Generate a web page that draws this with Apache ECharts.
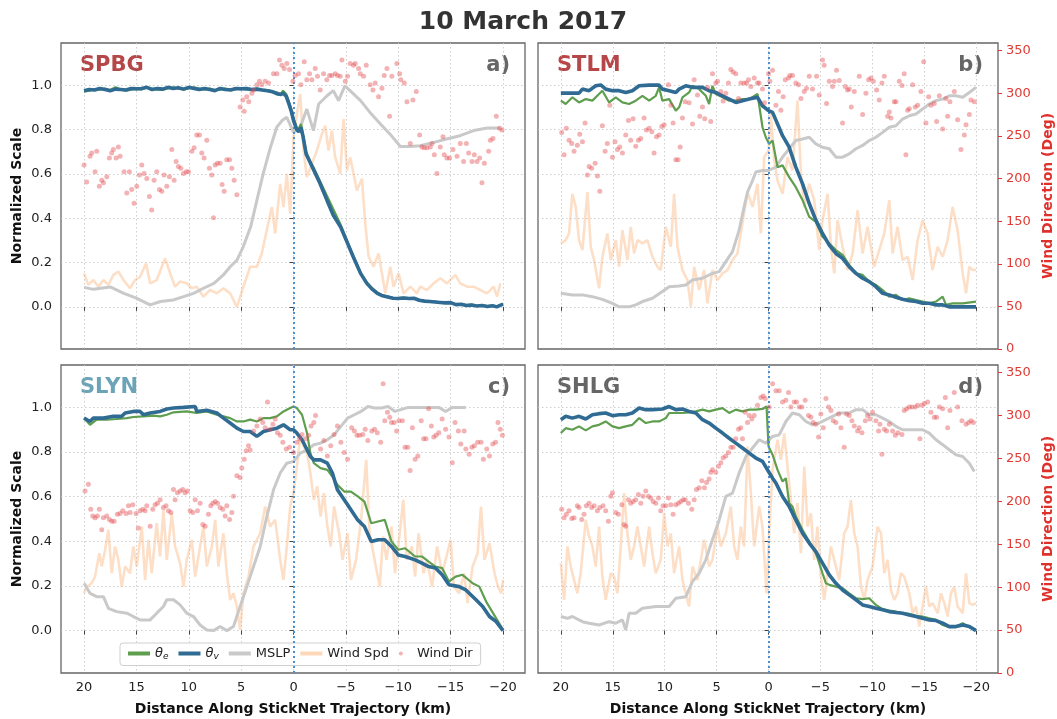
<!DOCTYPE html>
<html><head><meta charset="utf-8">
<script src="https://cdn.jsdelivr.net/npm/echarts@6/dist/echarts.min.js"></script>
<style>html,body{margin:0;padding:0;background:#fff}#c{width:1057px;height:719px}</style>
</head><body><div id="c"></div>
<script>
const titleText='10 March 2017';
const stations=['SPBG','STLM','SLYN','SHLG'];
const panelTags=['a)','b)','c)','d)'];
const xTicks=[20,15,10,5,0,-5,-10,-15,-20];
const yTicks=[0,0.2,0.4,0.6,0.8,1.0];
const seriesNames=['θe','θv','MSLP','Wind Spd','Wind Dir'];

// ---------- SPBG (a) ----------
const spbgThetaV=[[20,0.975],[19.5,0.98],[19,0.978],[18.5,0.985],[18,0.98],[17.5,0.975],[17,0.982],[16.5,0.98],[16,0.978],[15.5,0.985],[15,0.983],[14.5,0.985],[14,0.99],[13.5,0.98],[13,0.985],[12.5,0.982],[12,0.99],[11.5,0.985],[11,0.988],[10.5,0.982],[10,0.99],[9.5,0.985],[9,0.98],[8.5,0.985],[8,0.98],[7.5,0.975],[7,0.985],[6.5,0.98],[6,0.978],[5.5,0.985],[5,0.983],[4.5,0.985],[4,0.98],[3.5,0.982],[3,0.978],[2.5,0.975],[2,0.97],[1.5,0.96],[1.2,0.958],[1,0.965],[0.7,0.95],[0.4,0.91],[0.2,0.88],[0,0.84],[-0.3,0.8],[-0.5,0.79],[-0.7,0.81],[-0.9,0.77],[-1.2,0.69],[-1.5,0.66],[-1.9,0.62],[-2.5,0.56],[-3.2,0.48],[-3.8,0.413],[-4.5,0.36],[-5.1,0.293],[-5.7,0.226],[-6.4,0.151],[-7,0.106],[-7.5,0.08],[-8,0.061],[-8.5,0.05],[-9,0.045],[-9.5,0.039],[-10,0.038],[-10.5,0.04],[-11,0.038],[-11.5,0.039],[-12,0.03],[-12.5,0.026],[-13,0.024],[-13.5,0.022],[-14,0.02],[-14.5,0.018],[-15,0.019],[-15.5,0.01],[-16,0.012],[-16.5,0.006],[-17,0.008],[-17.5,0.004],[-18,0.006],[-18.5,0.002],[-19,0.005],[-19.4,0.0],[-20,0.012]];
const spbgThetaE=[[20,0.97],[19.5,0.975],[19,0.982],[18.5,0.98],[18,0.985],[17.5,0.978],[17,0.99],[16.5,0.98],[16,0.975],[15.5,0.98],[15,0.985],[14.5,0.98],[14,0.99],[13.5,0.985],[13,0.98],[12.5,0.978],[12,0.985],[11.5,0.99],[11,0.985],[10.5,0.98],[10,0.985],[9.5,0.99],[9,0.985],[8.5,0.98],[8,0.985],[7.5,0.978],[7,0.98],[6.5,0.985],[6,0.98],[5.5,0.982],[5,0.985],[4.5,0.98],[4,0.978],[3.5,0.985],[3,0.98],[2.5,0.978],[2,0.972],[1.5,0.965],[1.2,0.96],[1,0.975],[0.7,0.96],[0.4,0.92],[0.2,0.89],[0,0.85],[-0.3,0.81],[-0.5,0.8],[-0.7,0.825],[-0.9,0.78],[-1.2,0.7],[-1.5,0.665],[-1.9,0.63],[-2.5,0.57],[-3.2,0.5],[-3.8,0.44],[-4.5,0.37],[-5.1,0.3],[-5.7,0.23],[-6.4,0.155],[-7,0.11],[-7.5,0.085],[-8,0.065],[-8.5,0.052],[-9,0.046],[-9.5,0.04],[-10,0.04],[-10.5,0.042],[-11,0.04],[-11.5,0.04],[-12,0.032],[-12.5,0.027],[-13,0.025],[-13.5,0.024],[-14,0.02],[-14.5,0.02],[-15,0.02],[-15.5,0.012],[-16,0.013],[-16.5,0.008],[-17,0.01],[-17.5,0.005],[-18,0.007],[-18.5,0.004],[-19,0.006],[-19.4,0.002],[-20,0.013]];
const spbgMslp=[[20,0.088],[19.1,0.079],[17.5,0.09],[16.2,0.061],[15,0.039],[13.7,0.009],[12.7,0.024],[11.5,0.031],[10.5,0.046],[9.55,0.061],[8.6,0.084],[7.6,0.106],[6.7,0.144],[6.05,0.181],[5.4,0.211],[4.8,0.271],[4.1,0.36],[3.5,0.48],[2.9,0.6],[2.2,0.72],[1.6,0.81],[1.1,0.84],[0.64,0.855],[0.3,0.82],[0,0.787],[-0.64,0.81],[-1.27,0.892],[-1.9,0.795],[-2.4,0.915],[-3.2,0.952],[-3.8,0.975],[-4.3,0.93],[-4.9,0.997],[-5.4,0.975],[-6.4,0.93],[-7.3,0.877],[-8.3,0.825],[-9.2,0.78],[-10.2,0.723],[-11.1,0.723],[-12.1,0.727],[-13.4,0.742],[-14.6,0.757],[-15.9,0.772],[-17.2,0.795],[-18.5,0.807],[-19.7,0.807]];
const spbgWspd=[[20,0.151],[19.59,0.099],[19.11,0.121],[18.63,0.091],[18.15,0.121],[17.68,0.099],[17.2,0.144],[16.72,0.159],[16.24,0.121],[15.61,0.084],[15.13,0.121],[14.65,0.136],[14.08,0.196],[13.69,0.106],[13.06,0.121],[12.26,0.219],[11.78,0.151],[11.31,0.091],[10.83,0.114],[10.19,0.106],[9.71,0.084],[9.24,0.091],[8.6,0.046],[7.96,0.076],[7.32,0.061],[6.69,0.084],[6.05,0.061],[5.41,0.0],[4.78,0.091],[4.14,0.181],[3.5,0.181],[3.03,0.241],[2.55,0.346],[2.07,0.45],[1.75,0.331],[1.27,0.555],[0.96,0.45],[0.64,0.6],[0.32,0.42],[0,0.765],[-0.32,0.87],[-0.64,0.96],[-0.96,0.705],[-1.27,0.585],[-1.75,0.645],[-2.23,0.705],[-2.71,0.78],[-3.03,0.817],[-3.34,0.705],[-3.66,0.795],[-3.98,0.675],[-4.46,0.6],[-4.78,0.847],[-5.1,0.615],[-5.41,0.675],[-5.73,0.6],[-6.05,0.525],[-6.53,0.578],[-6.85,0.376],[-7.17,0.226],[-7.64,0.181],[-8.12,0.241],[-8.44,0.151],[-8.76,0.061],[-9.24,0.181],[-9.55,0.091],[-10.03,0.151],[-10.51,0.061],[-11.15,0.091],[-11.78,0.061],[-12.1,0.091],[-12.74,0.076],[-13.38,0.106],[-14.01,0.129],[-14.65,0.106],[-15.45,0.144],[-15.92,0.106],[-16.56,0.091],[-17.2,0.091],[-17.83,0.076],[-18.47,0.061],[-19.11,0.091],[-19.43,0.046],[-19.75,0.106]];
const spbgWdir=[[20.0,216],[19.75,196],[19.43,226],[19.27,230],[18.95,208],[18.79,232],[18.54,191],[18.31,198],[18.15,195],[17.83,202],[17.58,224],[17.36,230],[17.2,234],[16.94,224],[16.72,237],[16.56,226],[16.18,208],[15.92,183],[15.67,208],[15.45,187],[15.22,171],[14.97,191],[14.71,204],[14.49,216],[14.27,206],[14.01,200],[13.76,179],[13.54,163],[13.31,198],[13.06,208],[12.8,187],[12.58,185],[12.36,204],[12.1,191],[11.85,202],[11.62,234],[11.4,198],[11.21,220],[10.99,214],[10.76,212],[10.51,206],[10.25,208],[10.03,208],[9.71,232],[9.49,236],[9.24,251],[8.98,251],[8.76,230],[8.54,224],[8.28,245],[8.03,212],[7.8,204],[7.64,154],[7.48,216],[7.26,218],[7.01,218],[6.82,193],[6.62,185],[6.37,222],[6.11,222],[5.89,212],[5.67,198],[5.41,181],[5.1,284],[4.84,292],[4.71,279],[4.46,296],[4.27,290],[3.98,300],[3.82,304],[3.5,310],[3.25,314],[3.03,310],[2.71,314],[2.39,312],[1.91,323],[1.59,323],[1.34,339],[1.11,333],[0.89,329],[0.64,335],[0.38,328],[0.06,314],[-0.16,321],[-0.48,323],[-0.7,310],[-1.02,337],[-1.27,316],[-1.53,323],[-1.75,316],[-2.07,329],[-2.29,320],[-2.55,304],[-2.87,323],[-3.18,316],[-3.44,321],[-3.66,321],[-3.98,323],[-4.2,321],[-4.46,320],[-4.62,339],[-4.94,314],[-5.16,320],[-5.41,335],[-5.73,333],[-5.89,335],[-6.21,329],[-6.37,323],[-6.69,320],[-6.94,333],[-7.32,310],[-7.58,304],[-7.8,312],[-8.12,296],[-8.44,306],[-8.66,321],[-8.92,329],[-9.17,273],[-9.39,320],[-9.87,335],[-10.13,323],[-10.25,316],[-10.57,312],[-10.83,290],[-11.15,241],[-11.4,292],[-11.72,302],[-12.04,251],[-12.26,237],[-12.48,236],[-12.74,236],[-13.06,237],[-13.22,241],[-13.44,228],[-13.69,206],[-14.01,237],[-14.27,249],[-14.39,228],[-14.65,224],[-14.9,224],[-15.22,234],[-15.61,226],[-15.92,241],[-16.24,220],[-16.5,241],[-16.72,230],[-17.04,220],[-17.26,228],[-17.52,220],[-17.77,224],[-17.99,195],[-18.22,218],[-18.63,232],[-18.79,245],[-19.04,247],[-19.36,273],[-19.68,259],[-19.9,257]];

// ---------- STLM (b) ----------
const stlmThetaV=[[20,0.964],[18.25,0.964],[17.92,0.982],[17.28,0.975],[16.64,0.997],[16.16,1.001],[15.68,0.982],[15.03,0.975],[14.39,0.975],[13.75,0.967],[13.11,0.975],[12.46,0.997],[11.5,1.0],[10.54,1.0],[10.22,0.982],[9.57,0.975],[8.93,0.967],[8.61,0.982],[7.97,0.997],[7.32,0.99],[6.36,0.99],[5.72,0.975],[5.08,0.967],[4.43,0.952],[3.79,0.937],[3.15,0.922],[2.51,0.93],[1.86,0.937],[1.06,0.945],[0.58,0.907],[0,0.885],[-0.39,0.877],[-0.87,0.825],[-1.35,0.772],[-1.99,0.72],[-2.63,0.63],[-3.28,0.555],[-3.92,0.466],[-4.56,0.391],[-5.2,0.331],[-5.85,0.278],[-6.49,0.241],[-7.13,0.219],[-7.77,0.181],[-8.42,0.151],[-9.06,0.129],[-9.7,0.114],[-10.34,0.091],[-10.99,0.061],[-11.63,0.054],[-12.27,0.043],[-12.91,0.034],[-13.56,0.028],[-14.2,0.024],[-14.84,0.016],[-15.48,0.016],[-16.13,0.009],[-16.77,0.009],[-17.41,0.0],[-18.7,0.0],[-19.98,0.0]];
const stlmThetaE=[[20,0.93],[19.53,0.915],[18.89,0.945],[18.25,0.922],[17.6,0.937],[16.96,0.93],[16.32,0.96],[16.0,0.975],[15.35,0.922],[14.71,0.945],[14.07,0.922],[13.43,0.915],[12.79,0.93],[12.14,0.952],[11.5,0.93],[10.86,0.952],[10.54,0.99],[10.22,0.93],[9.57,0.937],[8.93,0.885],[8.61,0.9],[8.29,0.945],[7.65,0.967],[7.32,0.997],[6.68,0.982],[6.04,0.952],[5.72,0.915],[5.4,0.997],[5.08,0.96],[4.43,0.945],[3.79,0.93],[3.15,0.93],[2.51,0.937],[1.86,0.937],[1.06,0.96],[0.58,0.81],[0.26,0.765],[-0.06,0.735],[-0.39,0.75],[-0.87,0.63],[-1.35,0.638],[-1.99,0.585],[-2.63,0.54],[-3.28,0.481],[-3.92,0.406],[-4.56,0.383],[-5.2,0.316],[-5.85,0.286],[-6.49,0.256],[-7.13,0.234],[-7.77,0.189],[-8.42,0.151],[-9.06,0.144],[-9.7,0.114],[-10.34,0.099],[-10.99,0.076],[-11.63,0.046],[-12.27,0.054],[-12.91,0.031],[-13.56,0.039],[-14.2,0.031],[-14.84,0.024],[-15.48,0.016],[-16.13,0.024],[-16.77,0.046],[-17.09,0.009],[-17.73,0.016],[-18.7,0.016],[-19.98,0.024]];
const stlmMslp=[[20,0.061],[18.89,0.054],[17.92,0.054],[16.96,0.046],[16.0,0.034],[15.03,0.016],[14.39,0.0],[13.43,0.0],[12.79,0.009],[12.14,0.024],[11.18,0.039],[10.22,0.069],[9.57,0.091],[8.61,0.094],[7.97,0.099],[7.32,0.121],[6.36,0.129],[5.4,0.151],[4.75,0.159],[4.11,0.204],[3.47,0.249],[2.83,0.346],[2.35,0.451],[2.02,0.518],[1.54,0.57],[1.22,0.608],[0.58,0.615],[0,0.615],[-0.71,0.63],[-1.35,0.675],[-1.99,0.713],[-2.63,0.75],[-3.28,0.757],[-3.92,0.765],[-4.56,0.735],[-5.2,0.72],[-5.85,0.713],[-6.49,0.675],[-7.13,0.675],[-7.77,0.69],[-8.42,0.713],[-9.06,0.728],[-9.7,0.75],[-10.34,0.765],[-10.99,0.787],[-11.63,0.81],[-12.27,0.817],[-12.91,0.847],[-13.56,0.862],[-14.2,0.87],[-14.84,0.892],[-15.48,0.915],[-16.13,0.93],[-16.77,0.937],[-17.41,0.952],[-18.05,0.952],[-18.7,0.945],[-19.34,0.967],[-19.98,0.99]];
const stlmWspd=[[20,0.286],[19.53,0.301],[19.21,0.331],[18.89,0.51],[18.57,0.451],[18.25,0.301],[17.92,0.256],[17.44,0.518],[17.12,0.271],[16.8,0.211],[16.32,0.084],[16.0,0.226],[15.52,0.331],[15.19,0.211],[14.71,0.301],[14.39,0.181],[14.07,0.346],[13.59,0.211],[13.27,0.361],[12.95,0.241],[12.62,0.301],[12.14,0.286],[11.66,0.301],[11.18,0.226],[10.7,0.181],[10.38,0.166],[9.89,0.361],[9.41,0.271],[9.09,0.51],[8.77,0.271],[8.29,0.166],[7.81,0.121],[7.48,0.0],[7.16,0.181],[6.68,0.076],[6.2,0.166],[5.88,0.016],[5.4,0.166],[4.91,0.121],[4.43,0.151],[3.95,0.166],[3.47,0.211],[2.99,0.241],[2.51,0.376],[2.02,0.518],[1.54,0.451],[1.06,0.555],[0.74,0.331],[0.42,0.675],[0,0.705],[-0.22,0.87],[-0.55,0.66],[-0.87,0.57],[-1.35,0.51],[-1.83,0.675],[-2.31,0.615],[-2.79,0.93],[-3.12,0.6],[-3.44,0.451],[-3.92,0.555],[-4.4,0.481],[-4.88,0.256],[-5.2,0.391],[-5.69,0.51],[-6.01,0.271],[-6.33,0.151],[-6.65,0.391],[-7.13,0.271],[-7.61,0.166],[-8.1,0.241],[-8.58,0.436],[-9.06,0.241],[-9.54,0.361],[-9.86,0.271],[-10.18,0.181],[-10.66,0.256],[-11.15,0.331],[-11.63,0.481],[-11.95,0.241],[-12.43,0.361],[-12.91,0.211],[-13.4,0.226],[-13.88,0.121],[-14.36,0.301],[-14.84,0.391],[-15.32,0.331],[-15.8,0.166],[-16.29,0.271],[-16.77,0.226],[-17.25,0.301],[-17.73,0.451],[-18.21,0.346],[-18.7,0.151],[-19.02,0.061],[-19.34,0.181],[-19.66,0.166],[-19.98,0.166]];
const stlmWdir=[[19.92,254],[19.69,228],[19.47,259],[19.21,245],[18.95,241],[18.73,232],[18.41,239],[18.18,252],[17.92,243],[17.67,265],[17.44,204],[17.28,214],[17.03,212],[16.7,218],[16.48,203],[16.25,185],[16.0,262],[15.74,232],[15.52,241],[15.29,286],[15.03,225],[14.78,243],[14.55,234],[14.33,237],[14.07,230],[13.75,251],[13.49,268],[13.27,245],[13.04,270],[12.79,238],[12.53,245],[12.3,247],[11.98,271],[11.76,257],[11.5,259],[11.24,255],[11.02,230],[10.79,249],[10.54,251],[10.28,261],[10.05,263],[9.64,310],[9.41,286],[9.19,265],[8.93,222],[8.71,222],[8.51,237],[8.29,271],[8.03,290],[7.65,289],[7.32,264],[7.16,316],[6.84,298],[6.62,273],[6.36,284],[6.14,270],[5.88,307],[5.56,267],[5.4,323],[5.08,312],[4.91,314],[4.59,302],[4.37,291],[4.11,300],[3.86,312],[3.63,328],[3.41,325],[3.15,323],[2.89,294],[2.67,312],[2.35,312],[2.12,312],[1.93,316],[1.7,308],[1.38,318],[1.06,312],[0.9,312],[0.58,305],[0.39,289],[0,323],[-0.13,314],[-0.39,327],[-0.71,286],[-0.96,302],[-1.19,280],[-1.41,296],[-1.61,316],[-1.93,318],[-2.06,321],[-2.31,321],[-2.63,312],[-2.89,310],[-3.12,294],[-3.44,302],[-3.66,306],[-3.92,320],[-4.24,305],[-4.63,320],[-4.88,298],[-5.2,339],[-5.36,333],[-5.59,288],[-5.85,314],[-6.17,308],[-6.33,314],[-6.55,327],[-6.81,315],[-7.13,265],[-7.39,308],[-7.61,304],[-7.77,305],[-7.97,284],[-8.26,302],[-8.74,320],[-9.06,275],[-9.38,300],[-9.64,316],[-9.86,318],[-10.09,314],[-10.41,304],[-10.66,292],[-10.92,312],[-11.15,320],[-11.47,273],[-11.63,278],[-11.79,271],[-12.11,290],[-12.27,290],[-12.59,314],[-12.85,309],[-13.07,323],[-13.23,228],[-13.4,280],[-13.56,282],[-13.88,310],[-14.13,284],[-14.36,286],[-14.68,302],[-14.94,337],[-15.16,265],[-15.42,296],[-15.64,286],[-15.96,288],[-16.19,267],[-16.45,297],[-16.77,258],[-17.09,294],[-17.25,273],[-17.47,290],[-17.89,302],[-18.21,269],[-18.53,234],[-18.86,251],[-19.02,263],[-19.34,275],[-19.5,292],[-19.82,290]];

// ---------- SLYN (c) ----------
const slynThetaV=[[20,0.952],[19.43,0.937],[19.11,0.952],[18.15,0.952],[17.2,0.96],[16.4,0.96],[16.08,0.975],[15.29,0.982],[14.65,0.982],[14.33,0.967],[13.69,0.975],[12.74,0.982],[12.1,0.993],[11.46,0.997],[10.51,1.0],[9.39,1.004],[9.24,0.982],[8.28,0.987],[7.32,0.975],[6.69,0.952],[6.05,0.93],[5.41,0.907],[4.78,0.892],[4.14,0.892],[3.5,0.87],[2.87,0.892],[2.23,0.9],[1.59,0.907],[0.96,0.922],[0.32,0.9],[0,0.9],[-0.32,0.885],[-0.81,0.855],[-1.29,0.81],[-1.61,0.78],[-1.94,0.765],[-2.58,0.765],[-3.23,0.75],[-3.71,0.706],[-4.19,0.631],[-4.84,0.586],[-5.48,0.541],[-6.13,0.496],[-6.77,0.466],[-7.42,0.399],[-8.06,0.407],[-8.71,0.407],[-9.35,0.377],[-10.0,0.339],[-10.65,0.332],[-11.61,0.317],[-12.26,0.302],[-12.9,0.287],[-13.55,0.28],[-14.19,0.25],[-14.84,0.205],[-15.81,0.197],[-16.45,0.182],[-17.42,0.138],[-18.06,0.108],[-18.71,0.063],[-19.35,0.04],[-20,0.0]];
const slynThetaE=[[20,0.952],[19.43,0.922],[18.79,0.945],[17.83,0.945],[16.88,0.948],[15.92,0.952],[15.29,0.957],[14.33,0.96],[13.38,0.963],[12.74,0.96],[12.1,0.967],[11.46,0.978],[10.19,0.982],[9.24,0.975],[8.28,0.982],[7.32,0.967],[6.69,0.96],[6.05,0.952],[5.41,0.937],[4.78,0.937],[4.14,0.945],[3.5,0.937],[2.87,0.952],[2.23,0.952],[1.59,0.96],[0.96,0.982],[0.32,0.997],[0,1.004],[-0.32,0.997],[-0.81,0.967],[-1.29,0.885],[-1.61,0.795],[-1.94,0.75],[-2.58,0.728],[-3.23,0.72],[-3.71,0.69],[-4.19,0.653],[-4.84,0.623],[-5.48,0.623],[-6.13,0.601],[-6.77,0.578],[-7.42,0.481],[-8.06,0.489],[-8.71,0.496],[-9.35,0.399],[-10.0,0.362],[-10.65,0.369],[-11.61,0.332],[-12.26,0.332],[-12.9,0.309],[-13.55,0.287],[-14.19,0.28],[-14.84,0.22],[-15.48,0.242],[-16.13,0.25],[-17.1,0.212],[-17.74,0.197],[-18.39,0.13],[-19.35,0.055],[-20,0.003]];
const slynMslp=[[20,0.212],[19.43,0.167],[18.79,0.152],[18.15,0.152],[17.68,0.1],[16.88,0.085],[15.92,0.078],[15.29,0.063],[14.65,0.048],[13.69,0.048],[13.06,0.078],[12.42,0.108],[12.1,0.138],[11.46,0.138],[10.83,0.115],[10.19,0.078],[9.55,0.063],[8.92,0.025],[8.28,0.003],[7.64,0.0],[7.01,0.018],[6.37,0.0],[5.73,0.018],[5.1,0.108],[4.46,0.197],[3.82,0.287],[3.18,0.377],[2.55,0.511],[1.91,0.631],[1.27,0.706],[0.64,0.75],[0,0.758],[-0.65,0.795],[-1.29,0.81],[-1.94,0.833],[-2.58,0.84],[-3.23,0.855],[-3.87,0.877],[-4.52,0.915],[-5.16,0.952],[-5.81,0.967],[-6.45,0.982],[-7.1,1.004],[-7.74,0.997],[-8.39,0.997],[-9.03,1.004],[-9.68,0.982],[-10.97,1.0],[-12.26,1.0],[-13.87,1.0],[-14.52,0.982],[-15.16,1.0],[-16.45,1.0]];
const slynWspd=[[20,0.167],[19.75,0.197],[19.27,0.212],[18.95,0.242],[18.54,0.347],[18.31,0.287],[17.99,0.362],[17.68,0.451],[17.36,0.257],[17.04,0.377],[16.72,0.317],[16.4,0.197],[16.08,0.287],[15.61,0.257],[15.29,0.377],[14.97,0.287],[14.49,0.466],[14.17,0.227],[13.85,0.407],[13.54,0.257],[13.06,0.481],[12.74,0.332],[12.42,0.541],[12.1,0.317],[11.62,0.526],[11.31,0.377],[10.83,0.302],[10.51,0.197],[10.19,0.317],[9.71,0.407],[9.39,0.242],[8.92,0.377],[8.6,0.466],[8.28,0.287],[7.8,0.377],[7.48,0.496],[7.17,0.287],[6.69,0.436],[6.37,0.257],[6.05,0.138],[5.73,0.167],[5.41,0.108],[5.1,0.003],[4.78,0.167],[4.3,0.242],[3.82,0.377],[3.18,0.436],[2.71,0.556],[2.23,0.466],[1.75,0.496],[1.27,0.317],[0.96,0.227],[0.64,0.377],[0.32,0.556],[0,0.616],[-0.32,0.735],[-0.65,0.87],[-0.97,0.825],[-1.29,0.795],[-1.61,0.706],[-1.94,0.586],[-2.26,0.646],[-2.58,0.511],[-2.9,0.616],[-3.23,0.466],[-3.55,0.377],[-3.87,0.556],[-4.35,0.436],[-4.68,0.317],[-5.16,0.436],[-5.48,0.227],[-5.97,0.317],[-6.45,0.496],[-6.94,0.765],[-7.26,0.436],[-7.74,0.317],[-8.23,0.197],[-8.55,0.422],[-8.87,0.317],[-9.35,0.466],[-9.68,0.257],[-10.0,0.377],[-10.48,0.586],[-10.81,0.317],[-11.29,0.377],[-11.61,0.242],[-11.94,0.436],[-12.42,0.257],[-12.74,0.317],[-13.23,0.197],[-13.71,0.377],[-14.19,0.257],[-14.52,0.317],[-15.0,0.407],[-15.32,0.197],[-15.81,0.167],[-16.29,0.257],[-16.61,0.123],[-17.1,0.287],[-17.58,0.347],[-17.9,0.556],[-18.23,0.317],[-18.71,0.392],[-19.19,0.257],[-19.52,0.197],[-19.84,0.167],[-20,0.227]];
const slynWdir=[[19.9,212],[19.59,220],[19.36,191],[19.17,183],[18.95,181],[18.73,183],[18.54,191],[18.31,167],[18.15,181],[17.83,183],[17.58,179],[17.36,177],[17.13,177],[16.82,185],[16.56,186],[16.31,189],[15.99,186],[15.76,195],[15.61,187],[15.35,196],[15.03,186],[14.81,169],[14.65,189],[14.39,191],[14.17,189],[14.01,195],[13.69,171],[13.44,191],[13.22,196],[12.99,198],[12.74,202],[12.42,193],[12.17,195],[11.94,189],[11.72,187],[11.46,214],[11.31,202],[11.08,210],[10.83,212],[10.57,214],[10.35,210],[10.13,212],[9.87,189],[9.62,187],[9.39,202],[9.17,189],[8.92,198],[8.66,173],[8.44,171],[8.12,185],[7.9,195],[7.71,198],[7.48,200],[7.26,198],[7.01,193],[6.75,191],[6.53,183],[6.37,195],[6.11,179],[5.89,187],[5.73,206],[5.41,230],[5.1,228],[4.94,239],[4.71,249],[4.52,259],[4.3,265],[4.14,260],[3.82,282],[3.5,288],[3.18,296],[2.93,292],[2.71,286],[2.48,316],[2.23,284],[1.97,290],[1.75,296],[1.53,280],[1.27,277],[1.02,269],[0.7,261],[0.38,263],[0,257],[-0.32,269],[-0.58,273],[-0.81,278],[-1.13,273],[-1.45,277],[-1.68,288],[-1.94,292],[-2.1,300],[-2.58,261],[-2.9,271],[-3.23,253],[-3.55,265],[-3.87,278],[-4.19,288],[-4.52,269],[-4.84,257],[-5.16,249],[-5.55,286],[-5.81,282],[-6.06,277],[-6.29,277],[-6.61,278],[-6.84,284],[-7.1,271],[-7.48,282],[-7.74,284],[-8.0,280],[-8.32,269],[-8.55,337],[-8.71,294],[-8.97,304],[-9.19,298],[-9.35,292],[-9.61,292],[-9.84,282],[-10.06,294],[-10.39,294],[-10.65,263],[-10.9,263],[-11.13,236],[-11.35,286],[-11.61,249],[-11.87,253],[-12.19,294],[-12.42,273],[-12.65,273],[-12.9,308],[-13.16,288],[-13.39,275],[-13.61,277],[-13.87,280],[-14.19,296],[-14.52,284],[-14.84,275],[-15.16,245],[-15.42,292],[-15.74,282],[-15.97,267],[-16.29,282],[-16.45,261],[-16.77,255],[-17.03,263],[-17.26,265],[-17.58,269],[-17.9,269],[-18.13,249],[-18.45,261],[-18.71,253],[-19.03,267],[-19.29,269],[-19.52,292],[-19.74,284],[-19.94,277]];

// ---------- SHLG (d) ----------
const shlgThetaV=[[20,0.945],[19.53,0.96],[18.89,0.952],[18.25,0.96],[17.6,0.948],[16.96,0.967],[16.32,0.972],[15.68,0.975],[15.03,0.963],[14.39,0.967],[13.75,0.967],[13.11,0.975],[12.46,0.997],[11.82,0.99],[11.18,0.99],[10.22,0.993],[9.57,1.004],[8.93,0.99],[8.29,0.993],[7.65,0.982],[7.0,0.975],[6.36,0.945],[5.72,0.93],[5.08,0.907],[4.43,0.885],[3.79,0.862],[3.15,0.84],[2.51,0.818],[1.86,0.795],[1.22,0.773],[0.58,0.758],[0,0.713],[-0.39,0.683],[-0.71,0.661],[-1.35,0.601],[-1.99,0.556],[-2.63,0.496],[-3.28,0.436],[-3.92,0.392],[-4.56,0.354],[-5.2,0.302],[-5.85,0.25],[-6.49,0.212],[-7.13,0.182],[-7.77,0.16],[-8.42,0.138],[-9.06,0.115],[-9.7,0.108],[-10.34,0.1],[-10.99,0.093],[-11.63,0.085],[-12.27,0.081],[-12.91,0.078],[-13.56,0.07],[-14.2,0.063],[-14.84,0.055],[-15.48,0.048],[-16.13,0.045],[-16.77,0.033],[-17.41,0.018],[-18.05,0.018],[-18.7,0.025],[-19.34,0.018],[-19.98,0.0]];
const shlgThetaE=[[20,0.885],[19.53,0.907],[18.89,0.9],[18.25,0.915],[17.6,0.897],[16.96,0.915],[16.32,0.922],[15.68,0.937],[15.03,0.915],[14.39,0.907],[13.75,0.915],[13.11,0.922],[12.46,0.952],[11.82,0.93],[11.18,0.937],[10.54,0.937],[9.89,0.952],[9.57,0.975],[8.93,0.975],[8.29,0.975],[7.65,0.978],[7.0,0.982],[6.36,0.99],[5.72,0.982],[5.08,0.99],[4.43,0.997],[3.79,0.975],[3.15,0.99],[2.51,0.982],[1.86,0.99],[1.22,0.99],[0.58,0.993],[0.19,1.004],[0,0.825],[-0.39,0.788],[-0.87,0.72],[-1.35,0.668],[-1.67,0.683],[-1.99,0.571],[-2.31,0.556],[-2.63,0.511],[-3.28,0.451],[-3.92,0.399],[-4.56,0.347],[-5.2,0.257],[-5.53,0.212],[-5.85,0.205],[-6.49,0.197],[-7.13,0.19],[-7.77,0.167],[-8.42,0.145],[-9.06,0.141],[-9.7,0.145],[-10.34,0.115],[-10.99,0.096],[-11.63,0.09],[-12.27,0.085],[-12.91,0.078],[-13.56,0.075],[-14.2,0.066],[-14.84,0.063],[-15.48,0.055],[-16.13,0.048],[-16.77,0.025],[-17.41,0.015],[-18.05,0.018],[-18.7,0.033],[-19.34,0.015],[-19.98,0.003]];
const shlgMslp=[[20,0.063],[19.37,0.055],[18.89,0.063],[17.92,0.04],[17.28,0.033],[16.32,0.025],[15.35,0.04],[14.71,0.033],[14.07,0.048],[13.75,0.003],[13.43,0.078],[12.79,0.078],[12.14,0.1],[10.86,0.108],[9.57,0.108],[8.93,0.145],[7.97,0.152],[7.32,0.22],[6.68,0.257],[6.04,0.317],[5.4,0.407],[4.75,0.496],[4.11,0.601],[3.47,0.616],[2.83,0.706],[2.18,0.78],[1.54,0.818],[0.9,0.855],[0.26,0.84],[-0.39,0.87],[-1.03,0.877],[-1.67,0.937],[-2.31,0.975],[-2.96,0.967],[-3.6,0.937],[-4.24,0.922],[-4.88,0.93],[-5.53,0.945],[-6.17,0.96],[-6.81,0.975],[-7.77,0.975],[-8.42,0.99],[-9.06,0.99],[-9.7,0.967],[-10.34,0.967],[-10.99,0.952],[-11.63,0.937],[-12.27,0.915],[-12.91,0.9],[-13.88,0.9],[-14.84,0.9],[-15.48,0.885],[-16.13,0.855],[-16.77,0.833],[-17.41,0.81],[-18.05,0.788],[-18.7,0.78],[-19.34,0.75],[-19.82,0.713]];
const shlgWspd=[[20,0.302],[19.68,0.138],[19.37,0.377],[19.05,0.287],[18.73,0.227],[18.41,0.167],[18.09,0.257],[17.6,0.496],[17.28,0.422],[16.96,0.377],[16.64,0.287],[16.32,0.466],[16.0,0.242],[15.68,0.138],[15.19,0.257],[14.87,0.242],[14.55,0.167],[14.23,0.377],[13.91,0.616],[13.59,0.436],[13.27,0.317],[12.95,0.377],[12.62,0.466],[12.3,0.377],[11.98,0.287],[11.5,0.466],[11.18,0.347],[10.86,0.257],[10.38,0.317],[10.05,0.526],[9.73,0.377],[9.41,0.436],[9.09,0.257],[8.61,0.377],[8.29,0.227],[7.97,0.167],[7.65,0.108],[7.32,0.287],[6.84,0.227],[6.52,0.317],[6.2,0.407],[5.72,0.287],[5.4,0.317],[4.91,0.466],[4.59,0.377],[4.11,0.436],[3.63,0.556],[3.31,0.377],[2.99,0.317],[2.67,0.466],[2.35,0.377],[2.02,0.825],[1.7,0.616],[1.38,0.377],[0.9,0.556],[0.58,0.466],[0.19,0.167],[0,0.377],[-0.39,0.72],[-0.87,0.855],[-1.19,0.765],[-1.51,0.885],[-1.83,0.735],[-2.15,0.586],[-2.47,0.436],[-2.79,0.571],[-3.12,0.347],[-3.44,0.735],[-3.76,0.466],[-4.08,0.526],[-4.4,0.317],[-4.72,0.466],[-5.04,0.242],[-5.36,0.138],[-5.69,0.257],[-6.01,0.377],[-6.33,0.317],[-6.81,0.227],[-7.29,0.436],[-7.61,0.466],[-7.93,0.586],[-8.26,0.436],[-8.58,0.377],[-8.9,0.197],[-9.22,0.138],[-9.54,0.227],[-10.02,0.287],[-10.5,0.466],[-10.83,0.436],[-11.15,0.257],[-11.47,0.317],[-11.79,0.182],[-12.11,0.138],[-12.43,0.167],[-12.75,0.257],[-13.07,0.242],[-13.56,0.167],[-13.88,0.078],[-14.2,0.108],[-14.52,0.018],[-14.84,0.108],[-15.16,0.197],[-15.48,0.108],[-15.8,0.123],[-16.29,0.078],[-16.61,0.167],[-16.93,0.123],[-17.25,0.063],[-17.57,0.167],[-17.89,0.197],[-18.21,0.108],[-18.7,0.078],[-19.02,0.257],[-19.34,0.123],[-19.66,0.115],[-19.98,0.123]];
const shlgWdir=[[19.92,191],[19.69,181],[19.47,185],[19.21,189],[18.95,180],[18.73,181],[18.41,195],[18.25,193],[17.99,179],[17.77,185],[17.54,195],[17.28,198],[17.03,193],[16.8,195],[16.48,189],[16.25,193],[15.93,195],[15.68,189],[15.42,177],[15.19,206],[15.03,210],[14.71,187],[14.46,185],[14.13,196],[13.91,173],[13.75,171],[13.49,202],[13.27,198],[13.04,200],[12.79,202],[12.53,208],[12.3,198],[12.08,206],[11.82,212],[11.56,206],[11.34,204],[11.11,200],[10.86,198],[10.6,204],[10.38,189],[10.15,195],[9.89,195],[9.64,204],[9.41,196],[9.19,185],[8.93,196],[8.67,198],[8.45,200],[8.22,202],[8.03,202],[7.71,198],[7.39,191],[7.16,202],[6.94,214],[6.68,216],[6.42,224],[6.17,216],[5.97,222],[5.72,226],[5.56,234],[5.4,237],[5.08,234],[4.82,241],[4.59,245],[4.37,251],[4.11,253],[3.86,257],[3.63,263],[3.41,263],[3.15,273],[2.89,284],[2.67,286],[2.51,273],[2.25,304],[2.02,292],[1.86,300],[1.61,296],[1.38,300],[1.06,312],[0.74,321],[0.51,323],[0.32,320],[-0.06,310],[-0.39,337],[-0.71,329],[-1.03,329],[-1.35,316],[-1.67,318],[-1.93,327],[-2.15,310],[-2.47,316],[-2.7,316],[-2.96,310],[-3.21,310],[-3.53,318],[-3.85,300],[-4.08,298],[-4.3,292],[-4.56,290],[-4.82,275],[-5.04,302],[-5.27,286],[-5.53,320],[-5.78,310],[-6.01,306],[-6.23,294],[-6.49,292],[-6.75,302],[-6.97,286],[-7.29,263],[-7.52,302],[-7.77,300],[-8.03,294],[-8.26,288],[-8.58,282],[-8.74,286],[-9.0,280],[-9.32,294],[-9.54,300],[-9.77,296],[-10.02,304],[-10.34,294],[-10.6,282],[-10.73,290],[-10.92,255],[-11.15,284],[-11.37,282],[-11.63,290],[-11.95,282],[-12.21,277],[-12.46,280],[-12.85,278],[-13.07,306],[-13.3,308],[-13.56,310],[-13.81,310],[-14.13,310],[-14.36,312],[-14.58,273],[-14.78,312],[-15.0,314],[-15.32,316],[-15.64,304],[-15.96,298],[-16.19,298],[-16.45,310],[-16.77,308],[-17.03,321],[-17.25,286],[-17.47,306],[-17.89,327],[-18.21,310],[-18.63,294],[-19.02,290],[-19.27,292],[-19.5,294],[-19.73,292]];

const panels=[
  {thetaE:spbgThetaE,thetaV:spbgThetaV,mslp:spbgMslp,wspd:spbgWspd,wdir:spbgWdir},
  {thetaE:stlmThetaE,thetaV:stlmThetaV,mslp:stlmMslp,wspd:stlmWspd,wdir:stlmWdir},
  {thetaE:slynThetaE,thetaV:slynThetaV,mslp:slynMslp,wspd:slynWspd,wdir:slynWdir},
  {thetaE:shlgThetaE,thetaV:shlgThetaV,mslp:shlgMslp,wspd:shlgWspd,wdir:shlgWdir}
];

const FONT='DejaVu Sans';
const stationColors=['#b54749','#b54749','#6aa4b6','#666666'];
const grids=[
  {left:61,top:43,width:464,height:306},
  {left:538,top:43,width:460,height:306},
  {left:61,top:365,width:464,height:308},
  {left:538,top:365,width:460,height:308}
];
const minus=v=>v<0?'\u2212'+Math.abs(v):String(v);
const gridLine={show:true,lineStyle:{type:[1.5,2.5],color:'#c8c8c8',width:0.9}};

const xAxes=[],yAxes=[],series=[],graphics=[];
grids.forEach((g,i)=>{
  const bottomRow=i>=2, leftCol=i%2===0;
  xAxes.push({
    gridIndex:i,type:'value',inverse:true,min:-22.1,max:22.2,
    axisLine:{show:false},
    axisTick:{show:true,length:4,customValues:xTicks,lineStyle:{color:'#444'}},
    axisLabel:{show:bottomRow,customValues:xTicks,formatter:minus,fontSize:13,color:'#222',fontFamily:FONT,margin:8},
    splitLine:gridLine,
    name:bottomRow?'Distance Along StickNet Trajectory (km)':'',
    nameLocation:'middle',nameGap:29,
    nameTextStyle:{fontSize:14,fontWeight:'bold',fontFamily:FONT,color:'#111'}
  });
  yAxes.push({
    gridIndex:i,type:'value',min:-0.19,max:1.19,position:'left',
    axisLine:{show:false},
    axisTick:{show:true,length:4,customValues:yTicks,lineStyle:{color:'#444'}},
    axisLabel:{show:leftCol,customValues:yTicks,formatter:v=>v.toFixed(1),fontSize:13,color:'#222',fontFamily:FONT,margin:9},
    splitLine:gridLine,
    name:leftCol?'Normalized Scale':'',nameLocation:'middle',nameGap:37,
    nameTextStyle:{fontSize:14,fontWeight:'bold',fontFamily:FONT,color:'#111'}
  });
  yAxes.push({
    gridIndex:i,type:'value',min:0,max:359,interval:50,position:'right',show:!leftCol,
    axisLine:{show:false},
    axisTick:{show:true,length:4,lineStyle:{color:'#e03a33'}},
    axisLabel:{fontSize:13,color:'#e03a33',fontFamily:FONT,margin:8},
    splitLine:{show:false},
    name:leftCol?'':'Wind Direction (Deg)',nameLocation:'middle',nameGap:43,
    nameTextStyle:{fontSize:14,fontWeight:'bold',fontFamily:FONT,color:'#e0302c'}
  });
  const p=panels[i];
  const common={type:'line',xAxisIndex:i,yAxisIndex:2*i,showSymbol:false,symbol:'none',animation:false};
  series.push(Object.assign({},common,{name:'Wind Spd',data:p.wspd,z:2,lineStyle:{color:'rgba(250,165,100,0.36)',width:2.6},itemStyle:{color:'#fcd8b8'}}));
  series.push(Object.assign({},common,{name:'MSLP',data:p.mslp,z:3,lineStyle:{color:'#c9c9c9',width:3},itemStyle:{color:'#c9c9c9'}}));
  series.push(Object.assign({},common,{name:'θe',data:p.thetaE,z:4,lineStyle:{color:'#5e9e4e',width:2.2},itemStyle:{color:'#5e9e4e'}}));
  series.push(Object.assign({},common,{name:'θv',data:p.thetaV,z:5,lineStyle:{color:'#2f6b93',width:3.6},itemStyle:{color:'#2f6b93'}}));
  series.push({type:'scatter',name:'Wind Dir',xAxisIndex:i,yAxisIndex:2*i+1,data:p.wdir,symbolSize:5,z:6,animation:false,
    itemStyle:{color:'rgba(228,80,85,0.55)'},
    markLine:{silent:true,symbol:['none','none'],label:{show:false},animation:false,
      lineStyle:{color:'#4a90d6',type:[2,3],width:2},data:[{xAxis:0}]}});
  graphics.push({type:'text',x:g.left+19,y:g.top+23,style:{text:stations[i],fontSize:21,fontWeight:'bold',fontFamily:FONT,fill:stationColors[i],verticalAlign:'middle',align:'left'}});
  graphics.push({type:'text',x:g.left+g.width-15,y:g.top+23,style:{text:panelTags[i],fontSize:21,fontWeight:'bold',fontFamily:FONT,fill:'#666',verticalAlign:'middle',align:'right'}});
});

const rich={t:{fontStyle:'italic',fontSize:13,fontFamily:FONT,color:'#222'},s:{fontStyle:'italic',fontSize:9,fontFamily:FONT,color:'#222',padding:[7,0,0,0]},n:{fontSize:13,fontFamily:FONT,color:'#222'}};
const option={
  animation:false,
  backgroundColor:'#fff',
  title:{text:titleText,left:518,textAlign:'center',top:5,textStyle:{fontSize:25,fontWeight:'bold',fontFamily:FONT,color:'#333'}},
  grid:grids.map(g=>Object.assign({show:true,borderColor:'#666',borderWidth:1.3,backgroundColor:'transparent'},g)),
  xAxis:xAxes,yAxis:yAxes,series:series,
  legend:{
    left:120,top:643,orient:'horizontal',itemGap:10,itemWidth:22,itemHeight:4,
    padding:[4,8],borderColor:'#cfcfcf',borderWidth:1,borderRadius:3,backgroundColor:'rgba(255,255,255,0.85)',
    data:[{name:'θe',icon:'rect'},{name:'θv',icon:'rect'},{name:'MSLP',icon:'rect'},{name:'Wind Spd',icon:'rect'},{name:'Wind Dir',icon:'circle'}],
    formatter:n=>n==='θe'?'{t|θ}{s|e}':n==='θv'?'{t|θ}{s|v}':'{n|'+n+'}',
    textStyle:{rich:rich,fontSize:13,fontFamily:FONT,color:'#222'}
  },
  graphic:graphics
};
const chart=echarts.init(document.getElementById('c'),null,{renderer:'canvas'});
chart.setOption(option);
</script></body></html>
